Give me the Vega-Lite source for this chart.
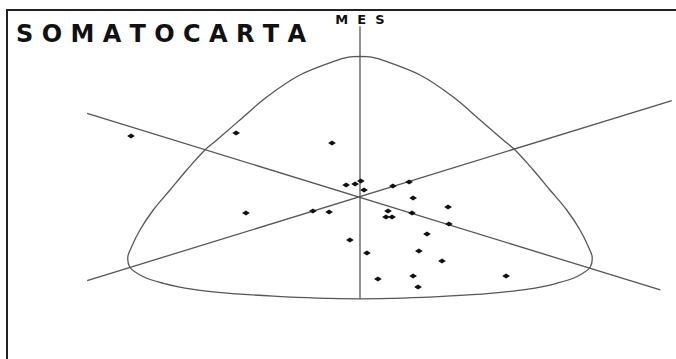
{
  "$schema": "https://vega.github.io/schema/vega-lite/v6.json",
  "autosize": "none",
  "padding": {"left": 7, "top": 10, "right": 0, "bottom": 0},
  "width": 680,
  "height": 360,
  "background": "white",
  "config": {
    "view": {"stroke": "#222222", "strokeWidth": 2},
    "font": "DejaVu Sans"
  },
  "title": {
    "text": "S O M A T O C A R T A",
    "anchor": "start",
    "frame": "group",
    "baseline": "alphabetic",
    "offset": 0,
    "dx": 9,
    "dy": 56,
    "font": "DejaVu Sans",
    "fontSize": 24,
    "fontWeight": "bold",
    "color": "#111111"
  },
  "datasets": {
    "curva": [
      {"i": 0, "X": 0, "Y": 15.9},
      {"i": 1, "X": 0.4, "Y": 15.8},
      {"i": 2, "X": 0.94, "Y": 15.29},
      {"i": 3, "X": 2.08, "Y": 13.79},
      {"i": 4, "X": 3.22, "Y": 11.33},
      {"i": 5, "X": 4.16, "Y": 8.7},
      {"i": 6, "X": 4.96, "Y": 6.44},
      {"i": 7, "X": 5.37, "Y": 5.31},
      {"i": 8, "X": 6.0, "Y": 3.05},
      {"i": 9, "X": 6.58, "Y": 0.79},
      {"i": 10, "X": 7.16, "Y": -1.47},
      {"i": 11, "X": 7.62, "Y": -3.73},
      {"i": 12, "X": 7.91, "Y": -5.62},
      {"i": 13, "X": 8.04, "Y": -6.75},
      {"i": 14, "X": 7.97, "Y": -7.94},
      {"i": 15, "X": 7.5, "Y": -9.01},
      {"i": 16, "X": 6.81, "Y": -9.75},
      {"i": 17, "X": 5.77, "Y": -10.43},
      {"i": 18, "X": 4.5, "Y": -10.88},
      {"i": 19, "X": 3.0, "Y": -11.2},
      {"i": 20, "X": 1.5, "Y": -11.42},
      {"i": 21, "X": 0, "Y": -11.5},
      {"i": 22, "X": -1.5, "Y": -11.42},
      {"i": 23, "X": -3.0, "Y": -11.2},
      {"i": 24, "X": -4.5, "Y": -10.88},
      {"i": 25, "X": -5.77, "Y": -10.43},
      {"i": 26, "X": -6.81, "Y": -9.75},
      {"i": 27, "X": -7.5, "Y": -9.01},
      {"i": 28, "X": -7.97, "Y": -7.94},
      {"i": 29, "X": -8.04, "Y": -6.75},
      {"i": 30, "X": -7.91, "Y": -5.62},
      {"i": 31, "X": -7.62, "Y": -3.73},
      {"i": 32, "X": -7.16, "Y": -1.47},
      {"i": 33, "X": -6.58, "Y": 0.79},
      {"i": 34, "X": -6.0, "Y": 3.05},
      {"i": 35, "X": -5.37, "Y": 5.31},
      {"i": 36, "X": -4.96, "Y": 6.44},
      {"i": 37, "X": -4.16, "Y": 8.7},
      {"i": 38, "X": -3.22, "Y": 11.33},
      {"i": 39, "X": -2.08, "Y": 13.79},
      {"i": 40, "X": -0.94, "Y": 15.29},
      {"i": 41, "X": -0.4, "Y": 15.8},
      {"i": 42, "X": 0, "Y": 15.9}
    ],
    "ejes": [
      {"eje": "meso", "xa": 0, "ya": 19.3, "xb": 0, "yb": -11.5},
      {"eje": "endo-ecto 1", "xa": -9.45, "ya": 9.45, "xb": 10.4, "yb": -10.5},
      {"eje": "endo-ecto 2", "xa": -9.45, "ya": -9.45, "xb": 10.8, "yb": 10.9}
    ],
    "sujetos": [
      {"X": -7.93, "Y": 6.89},
      {"X": -4.29, "Y": 7.23},
      {"X": -0.97, "Y": 6.10},
      {"X": -3.95, "Y": -1.81},
      {"X": -1.63, "Y": -1.58},
      {"X": -1.07, "Y": -1.69},
      {"X": -0.48, "Y": 1.36},
      {"X": -0.17, "Y": 1.47},
      {"X": 0.03, "Y": 1.81},
      {"X": 0.14, "Y": 0.79},
      {"X": -0.35, "Y": -4.86},
      {"X": 0.24, "Y": -6.33},
      {"X": 0.62, "Y": -9.27},
      {"X": 1.14, "Y": 1.24},
      {"X": 1.70, "Y": 1.69},
      {"X": 1.84, "Y": -0.11},
      {"X": 3.05, "Y": -1.13},
      {"X": 0.97, "Y": -1.58},
      {"X": 0.90, "Y": -2.26},
      {"X": 1.11, "Y": -2.26},
      {"X": 1.80, "Y": -1.81},
      {"X": 3.08, "Y": -3.05},
      {"X": 2.32, "Y": -4.18},
      {"X": 2.04, "Y": -6.10},
      {"X": 2.84, "Y": -7.23},
      {"X": 1.84, "Y": -8.93},
      {"X": 2.01, "Y": -10.17},
      {"X": 5.06, "Y": -8.93}
    ],
    "etiqueta": [
      {"label": "M\u00a0 E\u00a0 S", "X": 0, "Y": 19.55}
    ]
  },
  "layer": [
    {
      "data": {"name": "ejes"},
      "mark": {"type": "rule", "color": "#555555", "strokeWidth": 1.3},
      "encoding": {
        "x": {"field": "xa", "type": "quantitative", "scale": {"domain": [-12.225, 11.325], "nice": false, "zero": false}, "axis": null},
        "y": {"field": "ya", "type": "quantitative", "scale": {"domain": [-19.548, 21.13], "nice": false, "zero": false}, "axis": null},
        "x2": {"field": "xb"},
        "y2": {"field": "yb"}
      }
    },
    {
      "data": {"name": "curva"},
      "mark": {"type": "line", "color": "#555555", "strokeWidth": 1.3, "interpolate": "catmull-rom"},
      "encoding": {
        "x": {"field": "X", "type": "quantitative"},
        "y": {"field": "Y", "type": "quantitative"},
        "order": {"field": "i", "type": "quantitative"}
      }
    },
    {
      "data": {"name": "sujetos"},
      "mark": {"type": "point", "shape": "M-1,0L0,-0.65L1,0L0,0.65Z", "filled": true, "color": "#111111", "size": 60, "opacity": 1},
      "encoding": {
        "x": {"field": "X", "type": "quantitative"},
        "y": {"field": "Y", "type": "quantitative"}
      }
    },
    {
      "data": {"name": "etiqueta"},
      "mark": {"type": "text", "font": "DejaVu Sans", "fontSize": 13, "fontWeight": "bold", "color": "#111111", "align": "center", "baseline": "alphabetic"},
      "encoding": {
        "x": {"field": "X", "type": "quantitative"},
        "y": {"field": "Y", "type": "quantitative"},
        "text": {"field": "label"}
      }
    }
  ]
}
